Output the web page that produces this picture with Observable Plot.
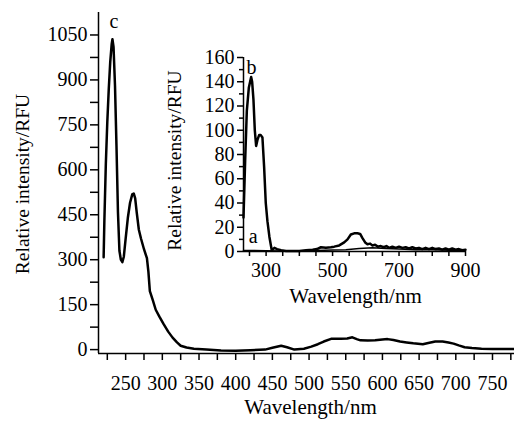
<!DOCTYPE html>
<html>
<head>
<meta charset="utf-8">
<script src="https://cdn.jsdelivr.net/npm/d3@7"></script>
<script src="https://cdn.jsdelivr.net/npm/@observablehq/plot@0.6"></script>
<style>
  html, body { margin: 0; padding: 0; background: white; }
  #chart { position: relative; width: 514px; height: 422px; overflow: hidden; }
  #chart svg { position: absolute; }
</style>
</head>
<body>
<div id="chart"></div>
<script>
// ---- Main spectrum (curve c) ----
const cWavelength = [220, 221, 223, 225, 227, 229, 231, 232, 233.5, 235.5, 237.5, 239.5, 241.5, 243.5, 245.5, 247.5, 250, 253, 256, 259, 261, 263, 265, 268, 271, 275, 279, 281, 283, 287, 291, 296, 302, 308, 314, 320, 325, 333, 343, 360, 380, 400, 420, 440, 450, 462, 470, 480, 493, 503, 512, 520, 530, 543, 552, 559, 565, 570, 580, 590, 600, 607, 615, 624, 633, 642, 655, 664, 672, 682, 690, 697, 704, 712, 722, 735, 750, 765, 780];
const cIntensity  = [308, 430, 620, 760, 870, 960, 1020, 1036, 1010, 880, 680, 460, 330, 300, 292, 310, 370, 440, 490, 518, 521, 505, 460, 400, 370, 335, 305, 260, 195, 165, 133, 110, 84, 60, 40, 24, 13, 7, 3, 0, -3, -4, -2, 0, 6, 13, 8, 0, 3, 10, 18, 27, 36, 36, 37, 41, 35, 31, 30, 31, 34, 35, 32, 27, 24, 21, 18, 23, 27, 27, 24, 20, 14, 8, 5, 3, 2, 2, 2];

// ---- Inset spectra (curves a and b) ----
const bWavelength = [232, 237, 242, 248, 255, 258, 262, 266, 270, 274, 279, 284, 289, 294, 299, 304, 310, 317, 325, 333, 345, 360, 380, 400, 420, 440, 453, 465, 480, 495, 505, 520, 535, 545, 555, 565, 575, 583, 590, 598, 605, 613, 620, 628, 636, 645, 654, 662, 670, 680, 690, 700, 710, 720, 730, 740, 750, 760, 770, 780, 790, 800, 810, 820, 830, 840, 850, 860, 870, 880, 890, 900];
const bIntensity  = [28, 75, 116, 135, 144, 140, 125, 100, 87, 92, 96, 96, 94, 70, 40, 25, 12, 1, 3, 2, 1, 0.5, 0.5, 0.5, 1, 1.5, 2, 3.5, 3, 3.5, 4, 5, 7.5, 10, 14, 15, 15, 14.5, 11, 7.5, 6, 6.5, 5, 5.5, 4, 4.5, 3.5, 4.5, 3, 4, 3, 4, 3, 3.5, 2.5, 3.5, 2.5, 3, 2, 3, 2, 3, 2, 2.5, 1.5, 2.5, 1.5, 2.5, 1.5, 2, 1, 1.5];
const aWavelength = [232, 260, 300, 350, 400, 450, 500, 540, 580, 620, 660, 700, 750, 800, 850, 900];
const aIntensity  = [0.8, 0.8, 0.6, 0.5, 0.5, 0.8, 1.2, 1.5, 2.5, 3, 2.5, 2, 1.5, 1.5, 1, 1];

// ---- Ticks ----
const mainXTicks = [250, 300, 350, 400, 450, 500, 550, 600, 650, 700, 750];
const mainXMinor = [225, 275, 325, 375, 425, 475, 525, 575, 625, 675, 725, 775];
const mainYTicks = [0, 150, 300, 450, 600, 750, 900, 1050];
const mainYMinor = [75, 225, 375, 525, 675, 825, 975];
const insetXTicks = [300, 500, 700, 900];
const insetXMinor = [250, 350, 400, 450, 550, 600, 650, 750, 800, 850];
const insetYTicks = [0, 20, 40, 60, 80, 100, 120, 140, 160];
const insetYMinor = [10, 30, 50, 70, 90, 110, 130, 150];

// ---- Labels ----
const xLabel = "Wavelength/nm";
const yLabel = "Relative intensity/RFU";
const mainTags = [{wl: 234, v: 1095, t: "c"}];
const insetTags = [{wl: 256, v: 152, t: "b"}, {wl: 261, v: 12, t: "a"}];

const cData = cWavelength.map((w, i) => ({w, v: cIntensity[i]}));
const bData = bWavelength.map((w, i) => ({w, v: bIntensity[i]}));
const aData = aWavelength.map((w, i) => ({w, v: aIntensity[i]}));

const font = "'Liberation Serif', 'Times New Roman', serif";
const blank = () => "";
const plain = d => String(d);

const mainX = [213, 780];
const mainY = [-13, 1125];

const main = Plot.plot({
  width: 514, height: 422,
  marginLeft: 98, marginRight: 0, marginTop: 12, marginBottom: 69,
  style: {fontFamily: font, fontSize: "20px", background: "transparent", color: "black", overflow: "visible"},
  x: {domain: mainX},
  y: {domain: mainY},
  marks: [
    Plot.axisX(mainXTicks, {tickSize: 7, tickPadding: 15, tickFormat: plain, fontSize: 20, strokeWidth: 1.5, label: null}),
    Plot.axisX(mainXMinor, {tickSize: 7, tickFormat: blank, strokeWidth: 1.5, label: null}),
    Plot.axisY(mainYTicks, {tickSize: 8, tickPadding: 3, tickFormat: plain, fontSize: 20, strokeWidth: 1.5, label: null}),
    Plot.axisY(mainYMinor, {tickSize: 8, tickFormat: blank, strokeWidth: 1.5, label: null}),
    Plot.ruleX([mainX[0]], {strokeWidth: 1.5}),
    Plot.ruleY([mainY[0]], {strokeWidth: 1.5}),
    Plot.line(cData, {x: "w", y: "v", strokeWidth: 2.5, stroke: "black", curve: "linear"}),
    Plot.text(mainTags, {x: "wl", y: "v", text: "t", fontSize: 20}),
    Plot.text([xLabel], {frameAnchor: "bottom", lineAnchor: "middle", textAnchor: "middle", dy: 54, dx: 4, fontSize: 21}),
    Plot.text([yLabel], {frameAnchor: "left", lineAnchor: "middle", textAnchor: "middle", rotate: -90, dx: -76, dy: 1, fontSize: 19.5})
  ]
});
main.style.left = "0px";
main.style.top = "0px";

const insetX = [232, 900];
const insetY = [0, 160];

const inset = Plot.plot({
  width: 330, height: 290,
  marginLeft: 93, marginRight: 15, marginTop: 27, marginBottom: 69,
  style: {fontFamily: font, fontSize: "20px", background: "transparent", color: "black", overflow: "visible"},
  x: {domain: insetX},
  y: {domain: insetY},
  marks: [
    Plot.axisX(insetXTicks, {tickSize: 5, tickPadding: 6, tickFormat: plain, fontSize: 20, strokeWidth: 1.5, label: null}),
    Plot.axisX(insetXMinor, {tickSize: 5, tickFormat: blank, strokeWidth: 1.5, label: null}),
    Plot.axisY(insetYTicks, {tickSize: 6, tickPadding: 3, tickFormat: plain, fontSize: 20, strokeWidth: 1.5, label: null}),
    Plot.axisY(insetYMinor, {tickSize: 4, tickFormat: blank, strokeWidth: 1.5, label: null}),
    Plot.ruleX([insetX[0]], {strokeWidth: 1.5}),
    Plot.ruleY([insetY[0]], {strokeWidth: 1.5}),
    Plot.line(aData, {x: "w", y: "v", strokeWidth: 1.5, stroke: "black"}),
    Plot.line(bData, {x: "w", y: "v", strokeWidth: 2.5, stroke: "black"}),
    Plot.text(insetTags, {x: "wl", y: "v", text: "t", fontSize: 20}),
    Plot.text([xLabel], {frameAnchor: "bottom", lineAnchor: "middle", textAnchor: "middle", dy: 45, dx: 1, fontSize: 21}),
    Plot.text([yLabel], {frameAnchor: "left", lineAnchor: "middle", textAnchor: "middle", rotate: -90, dx: -69, dy: 6, fontSize: 19.5})
  ]
});
inset.style.left = "150px";
inset.style.top = "30px";

const chart = document.getElementById("chart");
chart.appendChild(main);
chart.appendChild(inset);
</script>
</body>
</html>
